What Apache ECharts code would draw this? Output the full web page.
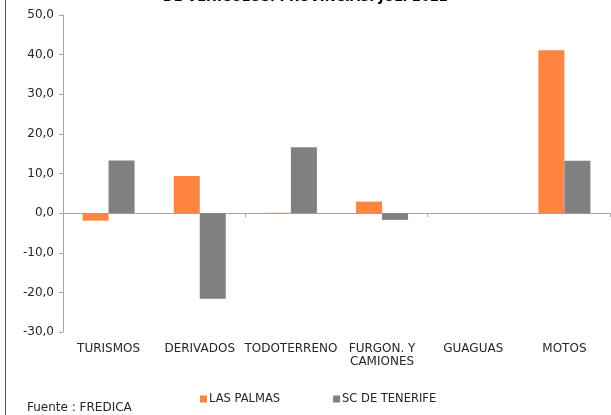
<!DOCTYPE html>
<html>
<head>
<meta charset="utf-8">
<script src="https://cdn.jsdelivr.net/npm/echarts@6/dist/echarts.min.js"></script>
<style>
  html, body { margin: 0; padding: 0; background: #fff; }
  #chart { width: 611px; height: 415px; }
</style>
</head>
<body>
<div id="chart"></div>
<script>
var categories = ['TURISMOS', 'DERIVADOS', 'TODOTERRENO', 'FURGON. Y\nCAMIONES', 'GUAGUAS', 'MOTOS'];
var lasPalmas = [-1.9, 9.4, 0.1, 2.9, 0, 41.1];
var scTenerife = [13.3, -21.6, 16.6, -1.7, 0, 13.2];
var seriesNames = ['LAS PALMAS', 'SC DE TENERIFE'];

var font = 'DejaVu Sans';
var txt = '#262626';
var axisGray = '#a6a6a6';

var chart = echarts.init(document.getElementById('chart'));
chart.setOption({
  animation: false,
  textStyle: { fontFamily: font },
  grid: { left: 63, right: 1, top: 15, bottom: 83 },
  legend: {
    left: 195, top: 388,
    itemWidth: 7, itemHeight: 7, itemGap: 53,
    icon: 'rect',
    textStyle: { fontFamily: font, fontSize: 11.5, color: txt, padding: [0, 0, 0, -3] },
    data: seriesNames
  },
  graphic: [
    { type: 'line', shape: { x1: 5.5, y1: 0, x2: 5.5, y2: 415 }, style: { stroke: '#595959', lineWidth: 1 } },
    { type: 'text', left: 'center', top: -9,
      style: { text: 'DE VEHÍCULOS. PROVINCIAS. JUL. 2022', font: 'bold 13px "DejaVu Sans"', fill: '#000' } },
    { type: 'text', left: 27, top: 402,
      style: { text: 'Fuente : FREDICA', font: '12px "DejaVu Sans"', fill: txt } }
  ],
  xAxis: [
    {
      type: 'category', data: categories,
      axisLine: { onZero: true, lineStyle: { color: axisGray, width: 1 } },
      axisTick: { show: true, length: 4, lineStyle: { color: axisGray } },
      axisLabel: { show: false }
    },
    {
      type: 'category', data: categories, position: 'bottom',
      axisLine: { show: false, onZero: false },
      axisTick: { show: false },
      axisLabel: { color: txt, fontSize: 12, fontFamily: font, margin: 10, lineHeight: 13, interval: 0, align: 'center' }
    }
  ],
  yAxis: {
    type: 'value', min: -30, max: 50, interval: 10,
    axisLine: { show: true, lineStyle: { color: axisGray } },
    axisTick: { show: true, length: 4, lineStyle: { color: axisGray } },
    splitLine: { show: false },
    axisLabel: {
      color: txt, fontSize: 12, fontFamily: font, margin: 9,
      formatter: function (v) { return v.toFixed(1).replace('.', ','); }
    }
  },
  series: [
    { name: seriesNames[0], type: 'bar', xAxisIndex: 0, data: lasPalmas,
      barWidth: 26, barGap: '0%', itemStyle: { color: '#ff8540' } },
    { name: seriesNames[1], type: 'bar', xAxisIndex: 0, data: scTenerife,
      barWidth: 26, barGap: '0%', itemStyle: { color: '#808080' } }
  ]
});
</script>
</body>
</html>
